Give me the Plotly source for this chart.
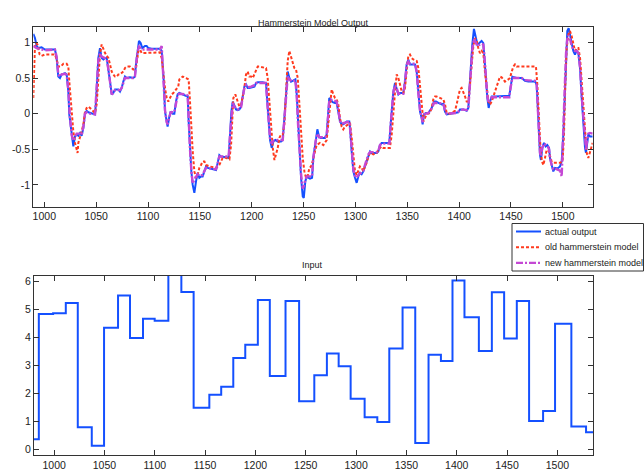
import plotly.graph_objects as go

# ---------------- data ----------------
actual_x = [989.4, 991, 992.6, 994.2, 997.4, 999, 1000.6, 1010.3, 1011.9, 1013.5, 1015.1, 1016.7, 1020, 1021.6,
            1023.2, 1024.1, 1025.4, 1026.4, 1028, 1029.6, 1031.2, 1032.8, 1034.5, 1036, 1037.7, 1039.3, 1040.9,
            1042.5, 1044.1, 1047.3, 1048.9, 1049.9, 1051.2, 1052.1, 1053.7, 1055.3, 1057, 1058.6, 1060.2, 1061.8,
            1063.4, 1065, 1066.6, 1068.2, 1069.8, 1071.4, 1073, 1074.6, 1076.2, 1077.8, 1079.4, 1082.6, 1085.8,
            1087.4, 1088.4, 1089.7, 1091.3, 1092.9, 1094.5, 1097.1, 1098.7, 1100.3, 1103.5, 1108.3, 1111.5, 1113.2,
            1114.1, 1115.4, 1116.4, 1118, 1118.9, 1120.6, 1121.9, 1123.8, 1125.4, 1127, 1128.6, 1130.2, 1133.5,
            1136.7, 1138.3, 1139.2, 1140.5, 1141.8, 1143.1, 1144.7, 1146.3, 1147.9, 1149.5, 1151.1, 1152.7, 1154.4,
            1156, 1157.6, 1160.8, 1164, 1165.6, 1167.2, 1168.8, 1170.4, 1172, 1175.2, 1177.8, 1179.1, 1180.4,
            1181.7, 1183.3, 1184.9, 1186.5, 1188.1, 1189.7, 1191.3, 1192.9, 1194.5, 1196.1, 1197.7, 1199.4, 1202.6,
            1204.2, 1205.8, 1210.6, 1213.8, 1214.8, 1216.1, 1217.7, 1219.3, 1220.9, 1222.8, 1225.1, 1228.3, 1229.9,
            1231.5, 1233.1, 1234.7, 1236.3, 1237.9, 1239.5, 1242.1, 1243.4, 1244.7, 1246, 1247.6, 1249.2, 1250.2,
            1251.7, 1253, 1255, 1256.2, 1258.2, 1259.4, 1261.7, 1263.3, 1264.9, 1266.5, 1268.4, 1270.7, 1272.3,
            1273.9, 1274.8, 1276.1, 1278.1, 1280.3, 1281.9, 1283.5, 1285.1, 1286.7, 1288.3, 1290, 1291.6, 1294.1,
            1294.8, 1296.4, 1298, 1299.6, 1301.2, 1302.8, 1304.4, 1306, 1307.6, 1309.2, 1310.8, 1312.5, 1314.1,
            1315.7, 1317.3, 1320.5, 1322.1, 1323.7, 1325.3, 1326.9, 1330.1, 1332.7, 1334, 1335.3, 1336.6, 1338.2,
            1339.8, 1341.4, 1343, 1346.2, 1347.8, 1349.4, 1351, 1352.6, 1354.2, 1357.5, 1359.1, 1360.7, 1362.3,
            1363.9, 1364.8, 1366.1, 1368, 1370.3, 1373.5, 1375.8, 1377.7, 1380, 1383.2, 1384.8, 1386.4, 1388,
            1391.2, 1394.4, 1397.6, 1399.2, 1400.8, 1404, 1407.3, 1408.9, 1409.8, 1411.1, 1412.7, 1414.3, 1416,
            1417.6, 1419.5, 1421.7, 1423.3, 1424.3, 1425.6, 1427.2, 1428.5, 1429.8, 1431.4, 1434.6, 1439.4, 1445.8,
            1448.4, 1449.7, 1451.3, 1452.9, 1455.5, 1460.3, 1463.5, 1466.7, 1471.6, 1473.2, 1474.8, 1475.7, 1476.7,
            1478, 1478.9, 1480.2, 1481.8, 1483.4, 1485, 1486.7, 1487.6, 1489.2, 1490.8, 1492.5, 1494.7, 1497.3,
            1498.9, 1500.5, 1501.8, 1503.1, 1504.3, 1505.6, 1506.9, 1508.5, 1510.1, 1511.7, 1513.3, 1515, 1516.6,
            1518.2, 1519.8, 1521.4, 1522.3, 1523.6, 1524.6, 1526.2, 1528.8]
actual_y = [1.12, 1.06, 0.95, 0.92, 0.93, 0.92, 0.90, 0.90, 0.78, 0.52, 0.50, 0.55, 0.57, 0.55,
            0.31, -0.01, -0.15, -0.29, -0.46, -0.32, -0.29, -0.31, -0.27, -0.31, -0.20, 0.01, 0.04,
            0.02, 0.01, 0.00, -0.01, 0.17, 0.45, 0.78, 0.92, 0.78, 0.76, 0.78, 0.78, 0.64,
            0.45, 0.27, 0.29, 0.34, 0.34, 0.34, 0.31, 0.36, 0.45, 0.52, 0.50, 0.51, 0.50,
            0.52, 0.69, 0.88, 1.02, 0.99, 0.92, 0.95, 0.95, 0.92, 0.91, 0.91, 0.91, 0.88,
            0.69, 0.41, 0.03, -0.15, -0.18, -0.04, 0.03, 0.00, 0.00, 0.17, 0.27, 0.29, 0.27,
            0.26, 0.24, -0.11, -0.53, -0.81, -1.00, -1.11, -0.95, -0.83, -0.90, -0.88, -0.88, -0.81,
            -0.74, -0.76, -0.77, -0.79, -0.79, -0.69, -0.58, -0.60, -0.60, -0.61, -0.62, -0.29, 0.03,
            0.17, 0.10, 0.06, 0.05, 0.06, 0.10, 0.24, 0.38, 0.41, 0.36, 0.36, 0.37, 0.38,
            0.43, 0.44, 0.44, 0.43, 0.22, -0.11, -0.37, -0.48, -0.39, -0.37, -0.39, -0.39, -0.37,
            -0.06, 0.31, 0.59, 0.50, 0.45, 0.46, 0.48, 0.27, -0.15, -0.53, -0.90, -1.16, -1.18,
            -0.95, -0.88, -0.90, -0.91, -0.90, -0.62, -0.39, -0.22, -0.32, -0.34, -0.34, -0.34, -0.29,
            0.08, 0.22, 0.20, 0.16, 0.15, 0.15, 0.03, -0.11, -0.15, -0.15, -0.13, -0.11, -0.11,
            -0.20, -0.53, -0.81, -0.90, -0.97, -0.88, -0.83, -0.85, -0.81, -0.74, -0.67, -0.58, -0.53,
            -0.55, -0.55, -0.55, -0.53, -0.44, -0.41, -0.41, -0.41, -0.41, -0.15, 0.17, 0.31, 0.43,
            0.36, 0.27, 0.29, 0.29, 0.45, 0.69, 0.76, 0.69, 0.69, 0.69, 0.59, 0.27, 0.03,
            -0.06, -0.15, -0.01, 0.01, 0.01, 0.08, 0.17, 0.17, 0.15, 0.13, 0.14, 0.03, -0.01,
            0.00, 0.00, 0.01, 0.02, 0.06, 0.06, 0.04, 0.08, 0.31, 0.64, 0.97, 1.19, 1.09,
            0.97, 0.99, 1.02, 0.99, 0.83, 0.55, 0.22, 0.08, 0.17, 0.24, 0.24, 0.24, 0.24,
            0.25, 0.38, 0.52, 0.51, 0.50, 0.50, 0.46, 0.45, 0.45, 0.45, 0.41, 0.08, -0.29,
            -0.58, -0.65, -0.48, -0.41, -0.46, -0.44, -0.48, -0.62, -0.74, -0.81, -0.76, -0.77, -0.74,
            -0.67, -0.29, 0.31, 0.88, 1.16, 1.20, 1.11, 0.97, 0.88, 0.83, 0.88, 0.85, 0.64,
            0.22, -0.15, -0.48, -0.55, -0.34, -0.29, -0.32, -0.32]

old_x = [989.4, 990.2, 991, 992, 993.4, 995.5, 997.1, 1000.6, 1003.9, 1007, 1010.3, 1011.9, 1013.5, 1015.8,
         1018.4, 1021.6, 1023.2, 1024.1, 1025.4, 1026.7, 1028, 1029.6, 1031.2, 1032.1, 1032.8, 1034.5, 1036,
         1037.7, 1039.3, 1040.9, 1042.5, 1044.1, 1047.3, 1048.9, 1050.5, 1052.1, 1053.7, 1055.3, 1057, 1058.6,
         1060.2, 1061.8, 1063.4, 1065, 1066.6, 1068.2, 1069.8, 1071.4, 1073, 1076.2, 1077.8, 1079.4, 1082.6,
         1085.8, 1088.4, 1089.7, 1090.7, 1092.3, 1093.9, 1095.5, 1100.3, 1105.1, 1111.5, 1113.2, 1114.8, 1116.4,
         1118, 1119.6, 1121.2, 1122.8, 1124.4, 1127.6, 1129.2, 1130.2, 1133.5, 1136.7, 1139.2, 1140.5, 1141.8,
         1143.1, 1144.7, 1146.3, 1147.9, 1149.5, 1151.1, 1152.7, 1154.4, 1156, 1159.2, 1162.4, 1165.6, 1168.8,
         1170.4, 1172, 1175.2, 1178.5, 1180.1, 1181, 1182.3, 1184.2, 1186.5, 1188.1, 1189.7, 1191.3, 1192.9,
         1194.5, 1196.1, 1197.7, 1199.4, 1201, 1202.6, 1204.2, 1205.8, 1207.4, 1210.6, 1213.8, 1215.4, 1217,
         1218.6, 1220.3, 1221.9, 1223.5, 1225.1, 1226.7, 1228.3, 1229.9, 1231.5, 1233.1, 1234.7, 1236.3, 1237.9,
         1239.5, 1241.1, 1242.7, 1244.4, 1246, 1247.6, 1249.2, 1250.8, 1252.4, 1254, 1255.6, 1257.2, 1258.8,
         1261, 1262.6, 1265.8, 1269.1, 1272.3, 1273.9, 1275.5, 1277.1, 1278.7, 1280.3, 1281.9, 1283.5, 1285.1,
         1286.7, 1288.3, 1289.9, 1293.2, 1294.8, 1296.4, 1298, 1299.6, 1301.2, 1302.8, 1304.4, 1306, 1307.6,
         1309.2, 1310.8, 1312.5, 1314.1, 1317.3, 1320.5, 1323.7, 1325.3, 1326.9, 1333.3, 1335, 1336.6, 1338.2,
         1339.8, 1341.4, 1343, 1344.6, 1346.2, 1347.8, 1349.4, 1351, 1352.6, 1354.2, 1355.8, 1359.1, 1360.7,
         1362.3, 1363.9, 1365.5, 1367.1, 1368.7, 1371.9, 1373.5, 1375.1, 1376.7, 1378.3, 1381.6, 1384.8, 1386.4,
         1388, 1391.2, 1394.4, 1396, 1397.6, 1399.2, 1400.8, 1402.4, 1404, 1405.7, 1407.3, 1408.9, 1410.5,
         1412.1, 1413.7, 1415.3, 1416.9, 1418.5, 1420.1, 1421.7, 1423.3, 1424.9, 1426.6, 1428.2, 1429.8, 1431.4,
         1433, 1434.6, 1436.2, 1437.8, 1439.4, 1441, 1442.6, 1444.2, 1447.4, 1449, 1450.7, 1452.3, 1453.9,
         1455.5, 1458.7, 1461.9, 1468.3, 1474.1, 1475.4, 1476.4, 1477.3, 1478.6, 1479.9, 1481.2, 1482.8, 1484.4,
         1486, 1487.6, 1489.2, 1490.8, 1494.1, 1497.3, 1499.8, 1501.1, 1502.4, 1503.7, 1505.3, 1506.9, 1508.5,
         1510.1, 1511.7, 1513.3, 1515, 1516.6, 1518.2, 1519.8, 1521.4, 1523, 1524.6, 1526.2, 1527.8, 1528.8]
old_y = [0.22, 0.70, 0.97, 0.99, 0.97, 0.83, 0.81, 0.83, 0.83, 0.84, 0.83, 0.76, 0.66, 0.66,
         0.70, 0.70, 0.66, 0.45, 0.17, -0.06, -0.25, -0.41, -0.53, -0.55, -0.41, -0.34, -0.25,
         -0.15, 0.03, 0.08, 0.10, 0.08, 0.03, 0.01, 0.13, 0.50, 0.83, 0.97, 0.90, 0.85,
         0.81, 0.78, 0.69, 0.59, 0.55, 0.52, 0.52, 0.55, 0.55, 0.59, 0.64, 0.66, 0.66,
         0.62, 0.64, 0.78, 0.88, 0.90, 0.85, 0.85, 0.85, 0.85, 0.86, 0.78, 0.55, 0.36,
         0.22, 0.17, 0.22, 0.27, 0.29, 0.34, 0.38, 0.48, 0.52, 0.50, 0.48, 0.17, -0.20,
         -0.53, -0.81, -0.90, -0.86, -0.76, -0.72, -0.67, -0.67, -0.72, -0.74, -0.75, -0.76, -0.72,
         -0.67, -0.62, -0.62, -0.64, -0.44, -0.06, 0.22, 0.27, 0.17, 0.10, 0.12, 0.24, 0.36,
         0.55, 0.59, 0.52, 0.52, 0.50, 0.55, 0.62, 0.66, 0.66, 0.65, 0.64, 0.50, 0.13,
         -0.20, -0.48, -0.65, -0.58, -0.48, -0.34, -0.29, -0.29, -0.15, 0.31, 0.74, 0.88, 0.81,
         0.74, 0.64, 0.62, 0.50, 0.13, -0.25, -0.62, -0.81, -0.90, -0.88, -0.76, -0.74, -0.67,
         -0.53, -0.44, -0.41, -0.44, -0.37, -0.15, 0.17, 0.34, 0.27, 0.22, 0.20, 0.13, -0.06,
         -0.18, -0.22, -0.18, -0.15, -0.13, -0.34, -0.62, -0.81, -0.86, -0.81, -0.74, -0.76, -0.81,
         -0.74, -0.69, -0.60, -0.55, -0.57, -0.55, -0.48, -0.46, -0.48, -0.48, -0.29, 0.08, 0.31,
         0.55, 0.50, 0.41, 0.31, 0.29, 0.36, 0.59, 0.81, 0.83, 0.78, 0.76, 0.74, 0.64,
         0.36, 0.08, -0.11, -0.06, -0.01, 0.01, 0.08, 0.20, 0.24, 0.24, 0.22, 0.20, 0.13,
         0.01, 0.00, 0.02, 0.04, 0.13, 0.24, 0.34, 0.36, 0.31, 0.24, 0.17, 0.17, 0.41,
         0.74, 0.95, 1.06, 1.02, 0.92, 0.85, 0.88, 0.85, 0.59, 0.34, 0.17, 0.13, 0.17,
         0.24, 0.31, 0.41, 0.48, 0.52, 0.51, 0.48, 0.45, 0.48, 0.50, 0.59, 0.66, 0.69,
         0.66, 0.66, 0.66, 0.66, 0.66, 0.41, 0.08, -0.25, -0.53, -0.67, -0.72, -0.62, -0.51,
         -0.51, -0.58, -0.67, -0.69, -0.69, -0.69, -0.67, -0.29, 0.41, 0.92, 1.11, 1.16, 1.09,
         0.97, 0.88, 0.92, 0.92, 0.78, 0.41, 0.03, -0.29, -0.55, -0.62, -0.53, -0.44, -0.41]

new_x = [989.4, 992.6, 997.4, 1000.6, 1010.3, 1011.9, 1013.5, 1015.1, 1016.7, 1020, 1021.6, 1023.2, 1024.5,
         1026.4, 1028, 1029.6, 1031.2, 1034.5, 1036, 1037.7, 1039.3, 1040.9, 1044.1, 1048.9, 1049.9, 1051.2,
         1052.1, 1053.7, 1055.3, 1058.6, 1060.2, 1061.8, 1063.4, 1065, 1066.6, 1068.2, 1071.4, 1073, 1074.6,
         1076.2, 1077.8, 1082.6, 1085.8, 1087.4, 1088.4, 1089.7, 1091.3, 1094.5, 1100.3, 1108.3, 1111.5, 1113.2,
         1114.1, 1115.4, 1116.4, 1118, 1118.9, 1120.6, 1121.9, 1125.4, 1127, 1128.6, 1130.2, 1136.7, 1138.3,
         1139.2, 1140.5, 1141.8, 1143.1, 1144.7, 1146.3, 1147.9, 1149.5, 1152.7, 1154.4, 1156, 1160.8, 1165.6,
         1167.2, 1168.8, 1172, 1177.8, 1179.1, 1180.4, 1181.7, 1183.3, 1186.5, 1189.7, 1191.3, 1192.9, 1194.5,
         1196.1, 1199.4, 1202.6, 1204.2, 1213.8, 1214.8, 1216.1, 1217.7, 1219.3, 1220.9, 1225.1, 1229.9, 1231.5,
         1233.1, 1234.7, 1236.3, 1239.5, 1242.1, 1243.4, 1244.7, 1246, 1247.6, 1249.2, 1250.2, 1251.7, 1253,
         1258.2, 1259.4, 1261.7, 1263.3, 1264.9, 1270.7, 1272.3, 1273.9, 1274.8, 1276.1, 1281.9, 1283.5, 1285.1,
         1286.7, 1291.6, 1294.1, 1294.8, 1296.4, 1298, 1299.6, 1301.2, 1302.8, 1304.4, 1307.6, 1309.2, 1310.8,
         1312.5, 1314.1, 1320.5, 1322.1, 1323.7, 1325.3, 1332.7, 1334, 1335.3, 1336.6, 1338.2, 1339.8, 1341.4,
         1346.2, 1347.8, 1349.4, 1351, 1352.6, 1357.5, 1359.1, 1360.7, 1362.3, 1363.9, 1364.8, 1366.1, 1370.3,
         1373.5, 1375.8, 1380, 1384.8, 1386.4, 1388, 1397.6, 1400.8, 1404, 1407.3, 1408.9, 1409.8, 1411.1,
         1412.7, 1414.3, 1416, 1417.6, 1421.7, 1423.3, 1424.3, 1425.6, 1427.2, 1428.5, 1429.8, 1431.4, 1448.4,
         1449.7, 1451.3, 1455.5, 1460.3, 1463.5, 1473.2, 1474.8, 1475.7, 1476.7, 1478, 1478.9, 1480.2, 1481.8,
         1485, 1486.7, 1487.6, 1489.2, 1490.8, 1492.5, 1497.3, 1498.9, 1499.8, 1500.5, 1501.8, 1503.1, 1504.3,
         1505.6, 1506.9, 1508.5, 1510.1, 1511.7, 1513.3, 1515, 1516.6, 1518.2, 1519.8, 1521.4, 1522.3, 1523.6,
         1524.6, 1526.2, 1528.8]
new_y = [0.95, 0.92, 0.90, 0.89, 0.90, 0.80, 0.55, 0.52, 0.55, 0.56, 0.54, 0.33, 0.00,
         -0.30, -0.38, -0.32, -0.28, -0.28, -0.30, -0.18, 0.00, 0.02, 0.00, -0.01, 0.20, 0.50,
         0.75, 0.85, 0.80, 0.78, 0.77, 0.62, 0.42, 0.27, 0.29, 0.33, 0.33, 0.33, 0.36,
         0.44, 0.50, 0.50, 0.50, 0.52, 0.70, 0.86, 0.94, 0.90, 0.90, 0.90, 0.90, 0.95,
         0.70, 0.40, 0.05, -0.12, -0.15, -0.05, 0.02, 0.02, 0.15, 0.26, 0.28, 0.27, 0.25,
         -0.10, -0.50, -0.80, -0.98, -0.92, -0.88, -0.85, -0.87, -0.86, -0.80, -0.76, -0.77, -0.78,
         -0.70, -0.60, -0.60, -0.60, -0.30, 0.00, 0.15, 0.10, 0.06, 0.09, 0.22, 0.36, 0.40,
         0.37, 0.38, 0.40, 0.43, 0.43, 0.20, -0.10, -0.35, -0.42, -0.38, -0.37, -0.37, -0.08,
         0.28, 0.52, 0.48, 0.45, 0.47, 0.25, -0.15, -0.50, -0.85, -1.05, -1.02, -0.93, -0.88,
         -0.88, -0.62, -0.38, -0.28, -0.33, -0.33, -0.30, 0.05, 0.18, 0.20, 0.17, 0.05, -0.10,
         -0.14, -0.12, -0.11, -0.20, -0.50, -0.78, -0.87, -0.90, -0.86, -0.84, -0.80, -0.72, -0.65,
         -0.57, -0.54, -0.54, -0.52, -0.44, -0.42, -0.42, -0.15, 0.15, 0.30, 0.40, 0.36, 0.28,
         0.28, 0.45, 0.68, 0.73, 0.70, 0.70, 0.58, 0.28, 0.05, -0.05, -0.12, -0.01, 0.01,
         0.07, 0.15, 0.15, 0.14, 0.04, 0.00, 0.01, 0.05, 0.06, 0.05, 0.08, 0.30, 0.62,
         0.90, 1.05, 1.00, 0.95, 0.98, 0.97, 0.83, 0.55, 0.25, 0.15, 0.20, 0.23, 0.23,
         0.37, 0.50, 0.50, 0.50, 0.47, 0.46, 0.40, 0.08, -0.30, -0.55, -0.60, -0.48, -0.42,
         -0.45, -0.50, -0.62, -0.72, -0.78, -0.77, -0.80, -0.88, -0.40, -0.20, 0.35, 0.85, 1.05,
         1.10, 1.05, 0.95, 0.90, 0.88, 0.88, 0.85, 0.65, 0.25, -0.10, -0.42, -0.50, -0.36,
         -0.28, -0.27, -0.28]

input_x = [980, 984.8, 999, 1011.6, 1023.5, 1037.4, 1049.6, 1063.5, 1075.4, 1088.3, 1099.9, 1113.5, 1126.4,
           1138.6, 1154.2, 1166, 1178, 1189.9, 1202.4, 1214.3, 1229.9, 1243.4, 1258.5, 1271, 1282.7, 1294.6,
           1308.5, 1321.1, 1333, 1346.2, 1358.8, 1372, 1384.3, 1395.8, 1407.7, 1422, 1434.9, 1447.1, 1459.7,
           1471.9, 1485.8, 1497.7, 1513.9, 1528.5, 1536]
input_y = [0.35, 4.82, 4.85, 5.22, 0.78, 0.12, 4.33, 5.48, 3.97, 4.65, 4.58, 6.6, 5.61,
           1.48, 1.94, 2.23, 3.25, 3.73, 5.32, 2.61, 5.29, 1.71, 2.64, 3.41, 2.96, 1.80,
           1.14, 0.97, 3.59, 5.06, 0.22, 3.37, 3.15, 6.02, 4.71, 3.50, 5.60, 3.95, 5.29,
           1.00, 1.36, 4.48, 0.81, 0.60, 0.60]

top_ticks = [1, 0.5, 0, -0.5, -1]
top_ticktext = ["1", "0.5", "0", "-0.5", "-1"]
x_ticks = [1000, 1050, 1100, 1150, 1200, 1250, 1300, 1350, 1400, 1450, 1500]
bottom_ticks = [0, 1, 2, 3, 4, 5, 6]
legend_names = ["actual output", "old hammerstein model", "new hammerstein model"]

BLUE = "#1450ff"
RED = "#ff3a1e"
PURPLE = "#c448d4"
FONT = "Liberation Sans, Arial, sans-serif"
TXT = "#222222"
W, H = 644, 471


def px(x):
    return x / W


def py(y):
    return 1 - y / H


styles = [dict(color=BLUE, width=2),
          dict(color=RED, width=2, dash="3px,2px"),
          dict(color=PURPLE, width=2.4, dash="7px,2px,2px,2px")]

fig = go.Figure()
fig.add_trace(go.Scatter(x=actual_x, y=actual_y, mode="lines", name=legend_names[0],
                         line=styles[0], xaxis="x", yaxis="y"))
fig.add_trace(go.Scatter(x=old_x, y=old_y, mode="lines", name=legend_names[1],
                         line=styles[1], xaxis="x", yaxis="y"))
fig.add_trace(go.Scatter(x=new_x, y=new_y, mode="lines", name=legend_names[2],
                         line=styles[2], xaxis="x", yaxis="y"))
fig.add_trace(go.Scatter(x=input_x, y=input_y, mode="lines", line_shape="hv", name="input",
                         line=dict(color=BLUE, width=2), xaxis="x2", yaxis="y2"))

axis_common = dict(showline=True, linecolor="#333333", linewidth=1, mirror="ticks", ticks="inside",
                   ticklen=5, tickcolor="#333333", showgrid=False, zeroline=False,
                   tickfont=dict(family=FONT, size=10.5, color=TXT))

# legend box (as in the reference, reaching the right edge of the window)
shapes = [dict(type="rect", xref="paper", yref="paper", x0=px(512), x1=px(643.5), y0=py(271), y1=py(223.5),
               line=dict(color="#333333", width=1), fillcolor="white", layer="above")]
annotations = [
    dict(text="Hammerstein Model Output", x=px(313), y=py(16), xref="paper", yref="paper",
         showarrow=False, font=dict(family=FONT, size=9, color=TXT)),
    dict(text="Input", x=px(312), y=py(265), xref="paper", yref="paper",
         showarrow=False, font=dict(family=FONT, size=9, color=TXT)),
]
for i, (name, st) in enumerate(zip(legend_names, styles)):
    yy = 231.5 + 15.7 * i
    shapes.append(dict(type="line", xref="paper", yref="paper", x0=px(516), x1=px(541), y0=py(yy), y1=py(yy),
                       line=st, layer="above"))
    annotations.append(dict(text=name, x=px(542.5), y=py(yy), xref="paper", yref="paper", xanchor="left",
                            yanchor="middle", showarrow=False, font=dict(family=FONT, size=9, color=TXT)))

fig.update_layout(
    width=W, height=H, margin=dict(l=0, r=0, t=0, b=0, autoexpand=False),
    paper_bgcolor="white", plot_bgcolor="white", showlegend=False,
    font=dict(family=FONT, size=11, color=TXT),
    xaxis=dict(domain=[px(33.3), px(592.7)], range=[989.4, 1528.8], tickvals=x_ticks, anchor="y", **axis_common),
    yaxis=dict(domain=[py(206.7), py(26.7)], range=[-1.305, 1.22], tickvals=top_ticks, ticktext=top_ticktext,
               anchor="x", **axis_common),
    xaxis2=dict(domain=[px(34), px(593.3)], range=[980, 1535.7], tickvals=x_ticks, anchor="y2", **axis_common),
    yaxis2=dict(domain=[py(455.3), py(276)], range=[-0.22, 6.18], tickvals=bottom_ticks, anchor="x2",
                **axis_common),
    shapes=shapes,
    annotations=annotations,
)

# remove the default page margin so the 644x471 figure fills the window exactly
fig.write_html("out.html", config={"displayModeBar": False},
               post_script="document.body.style.margin='0';document.body.style.overflow='hidden';")
